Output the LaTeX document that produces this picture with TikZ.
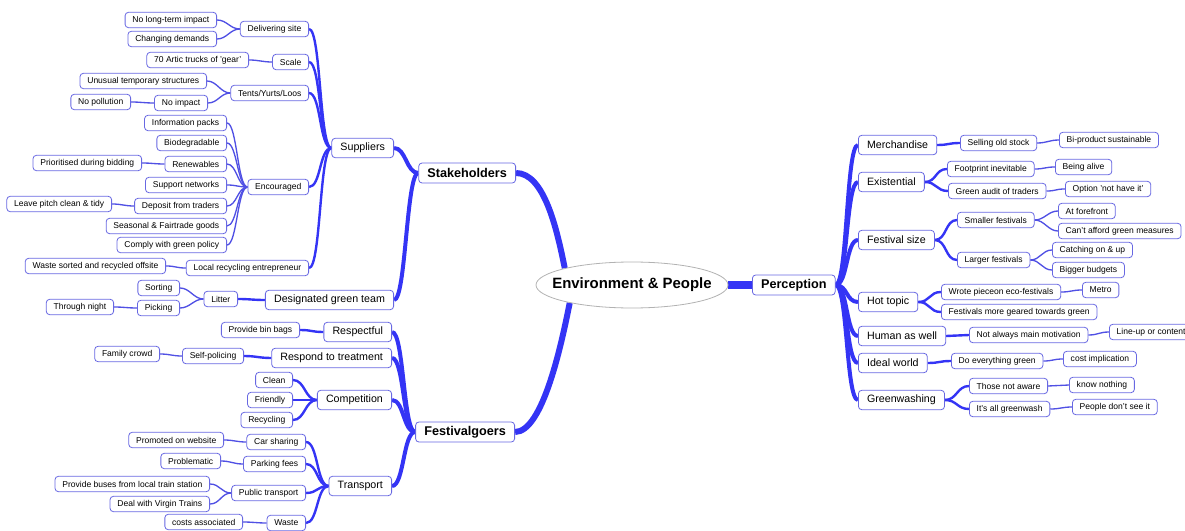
\documentclass[tikz,border=0pt]{standalone}
\usepackage{fontspec}
\setmainfont{Liberation Sans}
\usetikzlibrary{shapes}

\definecolor{boxblue}{RGB}{104,104,226}
\definecolor{linkblue}{RGB}{52,52,245}
\definecolor{twigblue}{RGB}{80,80,228}
\pgfdeclarelayer{background}
\pgfsetlayers{background,main}

\begin{document}
\begin{tikzpicture}[x=0.75pt, y=0.75pt,
  every node/.style = {shape=rectangle, rounded corners=2.5pt,
    draw=boxblue, line width=0.6pt, fill=white, align=center},
  centre/.style = {shape=ellipse, draw=gray!60, rounded corners=0pt,
    minimum width=144pt, minimum height=34.5pt, inner sep=0pt,
    font=\bfseries\fontsize{11.2}{13}\selectfont},
  topic/.style = {font=\bfseries\fontsize{9.5}{11}\selectfont,
    minimum height=15pt, inner xsep=6.5pt, inner ysep=0pt},
  branch/.style = {font=\fontsize{8}{9.5}\selectfont,
    minimum height=14.5pt, inner xsep=6.5pt, inner ysep=0pt},
  leaf/.style = {font=\fontsize{6.4}{7.5}\selectfont,
    minimum height=11.5pt, inner xsep=5.5pt, inner ysep=0pt},
  trunk/.style = {draw=linkblue, line width=4.5pt},
  bough/.style = {draw=linkblue, line width=3pt},
  stem/.style = {draw=linkblue, line width=1.8pt},
  twig/.style = {draw=twigblue, line width=1pt}]

\useasboundingbox (0,0) rectangle (1185,-531);

\node[centre] (root) at (632,-285) {\makebox[0pt]{Environment \& People}};

% left: stakeholders
\node[topic, anchor=east] (stake) at (516,-173) {Stakeholders};
\node[branch, anchor=east] (sup) at (394,-148) {Suppliers};
\node[branch, anchor=east] (green) at (394,-300) {Designated green team};

\node[leaf, anchor=east] (deliv) at (309,-29) {Delivering site};
\node[leaf, anchor=east] (scale) at (309,-62) {Scale};
\node[leaf, anchor=east] (tents) at (309,-93) {Tents/Yurts/Loos};
\node[leaf, anchor=east] (enc) at (309,-187) {Encouraged};
\node[leaf, anchor=east] (local) at (309,-268) {Local recycling entrepreneur};

\node[leaf, anchor=east] (nolong) at (217,-20) {No long-term impact};
\node[leaf, anchor=east] (chdem) at (217,-39) {Changing demands};
\node[leaf, anchor=east] (artic) at (249,-60) {70 Artic trucks of 'gear'};
\node[leaf, anchor=east] (unus) at (207,-81) {Unusual temporary structures};
\node[leaf, anchor=east] (noimp) at (208,-103) {No impact};
\node[leaf, anchor=east] (nopol) at (131,-102) {No pollution};
\node[leaf, anchor=east] (info) at (227,-123) {Information packs};
\node[leaf, anchor=east] (bio) at (227,-143) {Biodegradable};
\node[leaf, anchor=east] (renew) at (227,-164) {Renewables};
\node[leaf, anchor=east] (prior) at (142,-163) {Prioritised during bidding};
\node[leaf, anchor=east] (suppnet) at (227,-185) {Support networks};
\node[leaf, anchor=east] (depo) at (227,-206) {Deposit from traders};
\node[leaf, anchor=east] (leave) at (112,-204) {Leave pitch clean \& tidy};
\node[leaf, anchor=east] (seas) at (227,-226) {Seasonal \& Fairtrade goods};
\node[leaf, anchor=east] (comply) at (227,-245) {Comply with green policy};
\node[leaf, anchor=east] (wsort) at (166,-266) {Waste sorted and recycled offsite};

\node[leaf, anchor=east] (litter) at (238,-299) {Litter};
\node[leaf, anchor=east] (sort) at (180,-288) {Sorting};
\node[leaf, anchor=east] (pick) at (180,-308) {Picking};
\node[leaf, anchor=east] (night) at (114,-307) {Through night};

% left: festivalgoers
\node[topic, anchor=east] (fest) at (515,-432) {Festivalgoers};
\node[branch, anchor=east] (resp) at (392,-332) {Respectful};
\node[branch, anchor=east] (treat) at (392,-358) {Respond to treatment};
\node[branch, anchor=east] (comp) at (392,-400) {Competition};
\node[branch, anchor=east] (trans) at (392,-486) {Transport};

\node[leaf, anchor=east] (bins) at (300,-330) {Provide bin bags};
\node[leaf, anchor=east] (selfp) at (244,-356) {Self-policing};
\node[leaf, anchor=east] (family) at (160,-354) {Family crowd};
\node[leaf, anchor=east] (clean) at (293,-380) {Clean};
\node[leaf, anchor=east] (friend) at (293,-400) {Friendly};
\node[leaf, anchor=east] (recyc) at (293,-420) {Recycling};
\node[leaf, anchor=east] (car) at (306,-442) {Car sharing};
\node[leaf, anchor=east] (park) at (306,-464) {Parking fees};
\node[leaf, anchor=east] (pub) at (306,-493) {Public transport};
\node[leaf, anchor=east] (waste) at (306,-523) {Waste};
\node[leaf, anchor=east] (promo) at (224,-440) {Promoted on website};
\node[leaf, anchor=east] (probl) at (221,-461) {Problematic};
\node[leaf, anchor=east] (buses) at (210,-484) {Provide buses from local train station};
\node[leaf, anchor=east] (virgin) at (210,-504) {Deal with Virgin Trains};
\node[leaf, anchor=east] (costs) at (243,-522) {costs associated};

% right: perception
\node[topic, anchor=west] (perc) at (752,-285) {Perception};
\node[branch, anchor=west] (merch) at (858,-145) {Merchandise};
\node[branch, anchor=west] (exist) at (858,-182) {Existential};
\node[branch, anchor=west] (fsize) at (858,-240) {Festival size};
\node[branch, anchor=west] (hot) at (858,-302) {Hot topic};
\node[branch, anchor=west] (human) at (858,-336) {Human as well};
\node[branch, anchor=west] (ideal) at (858,-363) {Ideal world};
\node[branch, anchor=west] (gwash) at (858,-400) {Greenwashing};

\node[leaf, anchor=west] (sell) at (960,-143) {Selling old stock};
\node[leaf, anchor=west] (biprod) at (1059,-140) {Bi-product sustainable};
\node[leaf, anchor=west] (foot) at (947,-169) {Footprint inevitable};
\node[leaf, anchor=west] (alive) at (1055,-167) {Being alive};
\node[leaf, anchor=west] (audit) at (948,-191) {Green audit of traders};
\node[leaf, anchor=west] (option) at (1065,-189) {Option 'not have it'};
\node[leaf, anchor=west] (smaller) at (957,-220) {Smaller festivals};
\node[leaf, anchor=west] (forefr) at (1058,-211) {At forefront};
\node[leaf, anchor=west] (afford) at (1058,-231) {Can't afford green measures};
\node[leaf, anchor=west] (larger) at (957,-260) {Larger festivals};
\node[leaf, anchor=west] (catch) at (1052,-250) {Catching on \& up};
\node[leaf, anchor=west] (budget) at (1052,-270) {Bigger budgets};
\node[leaf, anchor=west] (wrote) at (941,-292) {Wrote pieceon eco-festivals};
\node[leaf, anchor=west] (metro) at (1082,-290) {Metro};
\node[leaf, anchor=west] (geared) at (941,-312) {Festivals more geared towards green};
\node[leaf, anchor=west] (motiv) at (969,-335) {Not always main motivation};
\node[leaf, anchor=west] (lineup) at (1109,-332) {Line-up or content};
\node[leaf, anchor=west] (doall) at (951,-361) {Do everything green};
\node[leaf, anchor=west] (costimp) at (1063,-359) {cost implication};
\node[leaf, anchor=west] (aware) at (969,-386) {Those not aware};
\node[leaf, anchor=west] (knownot) at (1069,-385) {know nothing};
\node[leaf, anchor=west] (allgw) at (969,-409) {It's all greenwash};
\node[leaf, anchor=west] (dontsee) at (1072,-407) {People don't see it};

\begin{pgfonlayer}{background}
\draw[trunk] (root.166) .. controls +(-8,40) and +(28,0) .. (stake.east);
\draw[trunk] (root.196) .. controls +(-8,-40) and +(28,0) .. (fest.east);
\draw[trunk, line width=6pt] (root.east) -- (perc.west);

\foreach \p/\c in {stake/sup, stake/green, fest/resp, fest/treat, fest/comp, fest/trans}
  \draw[bough] (\p.west) .. controls +(-12,0) and +(12,0) .. (\c.east);
\foreach \p/\c in {sup/deliv, sup/scale, sup/tents, sup/enc, sup/local, green/litter,
    resp/bins, treat/selfp, comp/clean, comp/friend, comp/recyc,
    trans/car, trans/park, trans/pub, trans/waste}
  \draw[stem] (\p.west) .. controls +(-12,0) and +(12,0) .. (\c.east);
\foreach \p/\c in {deliv/nolong, deliv/chdem, scale/artic, tents/unus, tents/noimp,
    noimp/nopol, enc/info, enc/bio, enc/renew, renew/prior, enc/suppnet, enc/depo,
    depo/leave, enc/seas, enc/comply, local/wsort, litter/sort, litter/pick,
    pick/night, selfp/family, car/promo, park/probl, pub/buses, pub/virgin,
    waste/costs}
  \draw[twig] (\p.west) .. controls +(-10,0) and +(10,0) .. (\c.east);

\foreach \c in {merch, exist, fsize, hot, human, ideal, gwash}
  \draw[bough] (perc.east) .. controls +(12,0) and +(-12,0) .. (\c.west);
\foreach \p/\c in {merch/sell, exist/foot, exist/audit, fsize/smaller, fsize/larger,
    hot/wrote, hot/geared, human/motiv, ideal/doall, gwash/aware, gwash/allgw}
  \draw[stem] (\p.east) .. controls +(12,0) and +(-12,0) .. (\c.west);
\foreach \p/\c in {sell/biprod, foot/alive, audit/option, smaller/forefr, smaller/afford,
    larger/catch, larger/budget, wrote/metro, motiv/lineup, doall/costimp,
    aware/knownot, allgw/dontsee}
  \draw[twig] (\p.east) .. controls +(10,0) and +(-10,0) .. (\c.west);
\end{pgfonlayer}
\end{tikzpicture}
\end{document}
